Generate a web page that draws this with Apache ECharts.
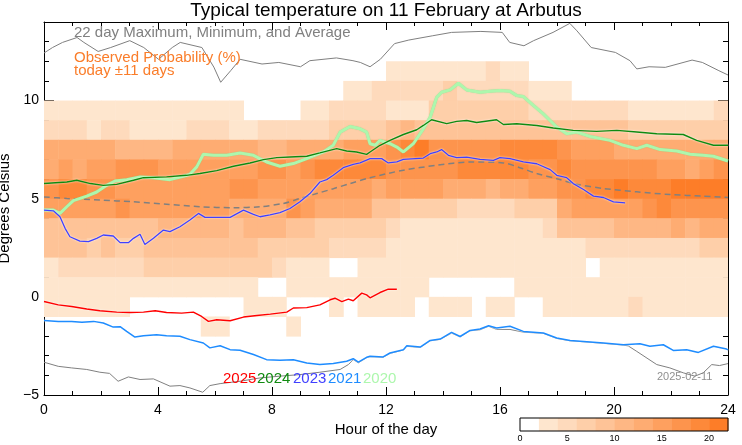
<!DOCTYPE html>
<html><head><meta charset="utf-8">
<script src="https://cdn.jsdelivr.net/npm/echarts@6/dist/echarts.min.js"></script>
<style>html,body{margin:0;padding:0;background:#fff}#c{width:742px;height:445px}</style>
</head><body><div id="c"></div>
<script>
// ---- DATA ----
// Observed probability (%) per 1 °C band (lower edge below) and per half-hour column (48 columns, 0..24 h)
const probTemps = [11, 10, 9, 8, 7, 6, 5, 4, 3, 2, 1, 0, -1, -2];
const prob_11 = [0,0,0,0,0,0,0,0, 0,0,0,0,0,0,0,0, 0,0,0,0,0,0,0,0, 3,3,3,3,3,3,3,5, 3,3,0,0,0,0,0,0, 0,0,0,0,0,0,0,0];
const prob_10 = [0,0,0,0,0,0,0,0, 0,0,0,0,0,0,0,0, 0,0,0,0,0,3,3,5, 5,5,5,5,7,5,5,5, 5,5,3,3,3,0,0,0, 0,0,0,0,0,0,0,0];
const prob_9  = [3,3,3,3,3,3,3,3, 3,3,3,3,3,3,0,0, 0,0,3,3,5,5,5,5, 3,3,3,7,7,7,7,7, 7,7,5,5,5,5,5,5, 5,3,3,3,3,3,3,5];
const prob_8  = [5,5,5,3,5,5,3,3, 3,3,5,5,5,3,3,5, 5,5,5,5,7,7,7,7, 9,11,9,9,9,9,9,9, 9,9,9,9,9,9,9,9, 9,7,7,7,7,7,7,7];
const prob_7  = [13,13,13,13,13,11,11,11, 11,13,13,13,13,13,13,11, 11,13,13,13,13,15,15,15, 17,19,21,17,17,17,17,17, 19,19,19,19,17,15,15,15, 13,13,13,13,13,13,13,13];
const prob_6  = [13,15,13,15,15,17,17,17, 15,15,15,15,15,15,15,17, 17,15,17,19,19,19,19,19, 17,17,17,17,17,19,19,19, 19,19,17,17,19,17,17,17, 17,17,17,15,15,13,15,17];
const prob_5  = [17,19,19,17,17,15,15,15, 15,15,15,15,15,17,17,15, 15,15,15,15,15,15,15,13, 15,15,15,15,13,13,13,11, 13,13,15,15,17,17,19,19, 21,19,19,19,21,21,21,21];
const prob_4  = [15,15,15,15,15,17,15,15, 15,15,15,15,15,13,13,13, 13,17,15,13,13,13,13,9, 9,7,7,7,7,5,5,5, 5,7,7,7,13,15,15,15, 15,15,17,19,17,17,17,17];
const prob_3  = [9,9,9,9,9,9,9,9, 11,11,11,11,11,9,11,11, 11,9,9,7,7,7,7,7, 5,3,3,3,3,3,3,3, 3,3,3,5,9,9,9,9, 11,11,11,11,13,11,13,13];
const prob_2  = [9,9,9,7,9,7,7,9, 9,9,9,9,9,9,9,7, 7,7,7,7,5,5,5,5, 3,3,3,3,3,3,3,3, 3,3,3,3,3,3,5,5, 5,5,5,5,5,5,7,7];
const prob_1  = [3,5,5,5,5,5,5,7, 7,7,7,7,7,7,7,7, 5,3,3,3,0,0,3,3, 3,3,3,3,3,3,3,3, 3,3,3,3,3,3,0,3, 3,3,3,3,3,3,3,3];
const prob_0  = [3,3,3,3,3,3,3,3, 3,3,3,3,3,3,3,0, 0,3,3,3,3,3,3,3, 3,3,3,0,0,0,0,0, 0,3,3,3,3,3,3,3, 3,3,3,3,3,3,3,3];
const prob_m1 = [3,3,3,3,3,3,0,0, 0,0,0,0,0,0,3,3, 3,0,0,0,3,0,3,3, 3,3,0,3,3,3,0,3, 3,0,0,3,3,3,3,3, 3,5,3,3,3,3,3,3];
const prob_m2 = [0,0,0,0,0,0,0,0, 0,0,0,3,3,0,0,0, 0,3,0,0,0,0,0,0, 0,0,0,0,0,0,0,0, 0,0,0,0,0,0,0,0, 0,0,0,0,0,0,0,0];
const probRows = [prob_11, prob_10, prob_9, prob_8, prob_7, prob_6, prob_5, prob_4, prob_3, prob_2, prob_1, prob_0, prob_m1, prob_m2];

const colorbarEdges = [0, 2, 4, 6, 8, 10, 12, 14, 16, 18, 20, 22];
const colorbarTicks = [0, 5, 10, 15, 20];

const maxLine = [[0,12.42],[0.3,12.7],[0.65,12.96],[1.16,13.21],[1.4,12.96],[1.9,12.5],[2.34,12.7],[3.01,13.05],[3.5,12.7],[4.02,12.1],[4.5,12.7],[4.78,12.96],[5.54,12.7],[5.96,11.7],[6.2,10.93],[6.55,11.52],[6.88,12.1],[7.65,11.86],[8.24,11.94],[9.0,11.72],[9.33,12.03],[10.26,12.17],[10.84,12.03],[11.1,11.94],[11.44,11.72],[11.8,12.1],[12.3,12.9],[12.8,13.08],[13.64,13.3],[14.3,13.47],[15.33,13.52],[16.08,13.47],[16.34,12.96],[16.84,12.79],[17.18,13.05],[17.86,13.47],[18.45,13.93],[18.7,13.55],[19.2,12.7],[20.05,12.45],[20.56,12.03],[20.8,11.61],[21.23,11.72],[21.8,11.69],[22.74,12.06],[23.1,11.94],[23.68,11.52],[24,11.3]];
const minLine = [[0,-3.33],[0.5,-3.54],[0.97,-3.62],[1.5,-3.7],[1.96,-3.84],[2.3,-3.9],[2.6,-4.3],[2.96,-4.08],[3.37,-4.21],[3.84,-4.18],[4.42,-4.55],[4.77,-4.52],[5.12,-4.64],[5.57,-4.86],[5.82,-4.52],[6.18,-4.42],[6.88,-4.3],[7.58,-4.13],[8.28,-4.04],[8.98,-3.96],[9.68,-3.84],[10.39,-3.7],[10.68,-3.45],[10.85,-3.2],[11.03,-3.36],[11.32,-3.1],[11.44,-3.05],[11.9,-3.08],[12.14,-2.88],[12.61,-2.71],[12.73,-2.52],[13.2,-2.58],[13.55,-2.24],[13.9,-2.17],[14.3,-1.85],[14.6,-2.04],[14.95,-1.73],[15.3,-1.68],[15.6,-1.5],[15.88,-1.66],[16.35,-1.66],[16.82,-1.8],[17.52,-1.86],[17.99,-2.12],[18.46,-2.24],[18.93,-2.29],[19.63,-2.37],[20.33,-2.46],[20.5,-2.5],[20.8,-2.78],[21.5,-3.45],[21.96,-3.62],[22.43,-3.87],[22.84,-4.04],[23.13,-3.87],[23.43,-3.45],[23.7,-3.5],[24,-3.4]];
const avgLine = [[0,5.09],[0.8,5.01],[1.97,4.93],[3.14,4.84],[4.3,4.72],[5.47,4.59],[6.65,4.54],[7.58,4.59],[8.4,4.76],[8.98,5.01],[9.57,5.26],[10.15,5.51],[10.74,5.77],[11.44,6.07],[12.61,6.45],[13.78,6.7],[14.95,6.87],[16.12,6.82],[16.7,6.58],[17.29,6.28],[17.99,6.02],[18.69,5.74],[19.63,5.52],[20.8,5.35],[21.97,5.21],[23.13,5.13],[24,5.06]];
const line2025 = [[0,-0.24],[0.5,-0.41],[0.97,-0.49],[1.5,-0.62],[1.96,-0.71],[2.55,-0.78],[3.02,-0.8],[3.49,-0.78],[3.9,-0.71],[4.3,-0.8],[4.83,-0.83],[5.24,-0.78],[5.53,-1.0],[5.77,-1.25],[6.06,-1.17],[6.53,-1.22],[7.0,-1.03],[7.47,-0.95],[7.94,-0.88],[8.52,-0.78],[8.75,-0.57],[9.22,-0.55],[9.68,-0.41],[10.04,-0.15],[10.21,-0.07],[10.45,-0.24],[10.68,-0.12],[10.85,-0.2],[11.15,0.19],[11.32,0.1],[11.44,-0.05],[11.79,0.22],[12.08,0.39],[12.38,0.39]];
const line2024 = [[0,5.77],[0.8,5.85],[1.15,5.94],[1.63,5.77],[2.08,5.68],[2.55,5.73],[3.14,5.94],[3.49,6.07],[4.3,6.11],[5.0,6.19],[5.47,6.28],[6.06,6.43],[6.65,6.65],[7.23,6.82],[7.7,6.99],[8.17,7.09],[8.63,7.12],[9.22,7.16],[9.68,7.33],[10.27,7.55],[10.62,7.43],[10.97,7.38],[11.32,7.26],[11.44,7.38],[11.79,7.72],[12.14,7.97],[12.61,8.27],[13.08,8.51],[13.31,8.73],[13.6,9.02],[14.13,8.82],[14.48,8.94],[14.83,8.98],[15.18,8.88],[15.88,9.02],[16.12,8.78],[16.59,8.82],[17.29,8.73],[17.87,8.6],[18.57,8.48],[19.39,8.43],[20.1,8.48],[20.8,8.4],[21.5,8.31],[22.43,8.27],[22.9,7.97],[23.49,7.72],[24,7.72]];
const line2023 = [[0,4.42],[0.33,4.38],[0.56,4.08],[0.74,3.49],[0.91,3.06],[1.26,2.84],[1.56,2.81],[1.85,2.98],[2.08,3.15],[2.43,3.1],[2.67,2.76],[2.96,2.76],[3.14,2.98],[3.37,3.19],[3.54,2.67],[3.84,2.98],[4.19,3.4],[4.42,3.32],[4.77,3.57],[5.12,3.91],[5.42,4.25],[5.65,4.05],[6.06,4.05],[6.53,4.05],[7.0,4.42],[7.35,4.2],[7.58,4.08],[7.93,4.17],[8.28,4.29],[8.63,4.5],[8.98,4.84],[9.33,5.26],[9.68,5.85],[9.92,5.97],[10.15,6.19],[10.5,6.58],[10.85,6.75],[11.09,6.82],[11.44,7.04],[11.85,7.04],[12.08,6.82],[12.38,6.87],[12.61,7.0],[13.31,7.07],[13.55,7.29],[13.78,7.38],[13.95,7.5],[14.19,7.21],[14.48,7.09],[14.83,7.12],[15.3,7.0],[15.77,6.95],[16.0,7.09],[16.35,7.04],[16.82,6.87],[17.29,6.78],[17.76,6.48],[17.99,6.19],[18.34,6.07],[18.57,5.77],[18.93,5.47],[19.28,5.13],[19.63,5.06],[19.98,4.84],[20.39,4.79]];
const line2021 = [[0,-1.2],[0.5,-1.25],[0.97,-1.25],[1.33,-1.3],[1.74,-1.25],[2.08,-1.33],[2.43,-1.54],[2.67,-1.52],[2.9,-1.76],[3.19,-2.05],[3.49,-1.98],[3.95,-1.93],[4.3,-1.98],[4.77,-2.01],[5.12,-2.18],[5.59,-2.35],[5.82,-2.6],[6.18,-2.49],[6.53,-2.69],[6.88,-2.72],[7.35,-2.94],[7.81,-3.2],[8.28,-3.23],[8.75,-3.2],[9.22,-3.37],[9.68,-3.45],[10.15,-3.4],[10.62,-3.28],[10.85,-3.15],[11.03,-3.33],[11.32,-3.08],[11.44,-3.03],[11.9,-3.06],[12.14,-2.86],[12.61,-2.69],[12.73,-2.49],[13.2,-2.56],[13.55,-2.22],[13.9,-2.15],[14.3,-1.81],[14.6,-2.02],[14.95,-1.71],[15.3,-1.64],[15.6,-1.47],[15.88,-1.59],[16.35,-1.5],[16.82,-1.76],[17.52,-1.84],[17.99,-2.1],[18.46,-2.22],[18.93,-2.27],[19.63,-2.35],[20.33,-2.44],[20.91,-2.39],[21.26,-2.52],[21.73,-2.44],[22.08,-2.73],[22.55,-2.69],[22.96,-2.83],[23.49,-2.52],[23.95,-2.66],[24,-2.7]];
const line2020 = [[0,4.42],[0.33,4.42],[0.56,4.25],[0.8,4.59],[1.03,4.9],[1.5,5.13],[1.85,5.34],[2.2,5.68],[2.49,5.9],[2.9,5.97],[3.37,6.11],[3.84,6.07],[4.42,5.97],[4.89,6.14],[5.12,6.24],[5.36,6.62],[5.59,7.26],[5.94,7.21],[6.41,7.21],[6.88,7.33],[7.35,7.21],[7.81,6.87],[8.28,6.65],[8.75,6.79],[9.22,7.04],[9.8,7.38],[10.15,7.72],[10.39,8.39],[10.74,8.68],[11.09,8.56],[11.32,8.39],[11.44,7.8],[11.62,7.72],[11.79,7.97],[12.14,7.8],[12.38,7.63],[12.61,7.38],[12.96,7.8],[13.31,8.56],[13.55,9.15],[13.78,10.17],[13.95,10.42],[14.25,10.54],[14.54,10.88],[14.83,10.54],[15.3,10.42],[15.65,10.47],[16.0,10.51],[16.35,10.47],[16.59,10.25],[16.82,10.2],[17.17,9.75],[17.52,9.32],[17.99,8.65],[18.34,8.31],[18.69,8.39],[19.16,8.17],[19.86,7.97],[20.33,7.72],[20.8,7.55],[21.15,7.72],[21.62,7.5],[22.2,7.43],[22.67,7.26],[23.13,7.21],[23.49,7.16],[24,6.92]];

const yearLabels = ['2025', '2024', '2023', '2021', '2020'];

// ---- STYLE ----
const FONT = "'Liberation Sans', Arial, Helvetica, sans-serif";
const palette = ['#ffffff','#fee6ce','#fedabc','#fecfa9','#fec397','#feb784','#feac72','#fea05f','#fd944d','#fd893a','#fd7d28'];
const yearColors = ['#ff0000', '#108a10', '#4040ff', '#1e8cff', '#adf7ad'];
const yearLabelX = [223, 257, 293, 328, 363];
const ORANGE = '#fa7d2a';
const GRAY = '#808080';
const CELL_W = 0.5, CELL_H = 1;

function levelColor(v) { return palette[Math.min(palette.length - 1, Math.floor(v / 2))]; }

const heatData = [];
probRows.forEach((row, r) => row.forEach((v, c) => { if (v > 0) heatData.push([c * CELL_W, probTemps[r], v]); }));
const cbData = [];
for (let i = 0; i < colorbarEdges.length - 1; i++) cbData.push([colorbarEdges[i], colorbarEdges[i + 1], (colorbarEdges[i] + colorbarEdges[i + 1]) / 2]);

function renderCell(params, api) {
  const x = api.value(0), y = api.value(1), v = api.value(2);
  const p0 = api.coord([x, y + CELL_H]);
  const p1 = api.coord([x + CELL_W, y]);
  return { type: 'rect', shape: { x: p0[0], y: p0[1], width: p1[0] - p0[0] + 0.5, height: p1[1] - p0[1] + 0.5 },
           style: { fill: levelColor(v) } };
}
function renderBar(params, api) {
  const p0 = api.coord([api.value(0), 1]);
  const p1 = api.coord([api.value(1), 0]);
  return { type: 'rect', shape: { x: p0[0], y: p0[1], width: p1[0] - p0[0] + 0.4, height: p1[1] - p0[1] },
           style: { fill: levelColor(api.value(2)) } };
}

const black = { color: '#000', width: 1 };
function majorY(pos, labels) {
  return { gridIndex: 0, type: 'value', position: pos, min: -5, max: 14, interval: 5,
    axisLine: { show: true, onZero: false, lineStyle: black },
    axisTick: { show: true, inside: true, length: 10, lineStyle: black },
    axisLabel: { show: labels, fontSize: 14, fontFamily: FONT, color: '#000', margin: 5,
      formatter: v => (v % 5 === 0 ? String(v).replace('-', '\u2212') : '') },
    splitLine: { show: false },
    name: labels ? 'Degrees Celsius' : '', nameLocation: 'middle', nameGap: 24, nameRotate: 90,
    nameTextStyle: { fontSize: 15, fontFamily: FONT, color: '#000' } };
}
function minorY(pos) {
  return { gridIndex: 0, type: 'value', position: pos, min: -5, max: 14, interval: 1,
    axisLine: { show: false, onZero: false }, axisTick: { show: true, inside: true, length: 5, lineStyle: black },
    axisLabel: { show: false }, splitLine: { show: false } };
}
function xAx(pos, labels) {
  return { gridIndex: 0, type: 'value', position: pos, min: 0, max: 24, interval: 4,
    axisLine: { show: true, onZero: false, lineStyle: black },
    axisTick: { show: true, inside: true, length: 8, lineStyle: black },
    minorTick: { show: true, splitNumber: 4, length: 4, lineStyle: black },
    axisLabel: { show: labels, fontSize: 14, fontFamily: FONT, color: '#000', margin: 8 },
    splitLine: { show: false }, minorSplitLine: { show: false },
    name: labels ? 'Hour of the day' : '', nameLocation: 'middle', nameGap: 21,
    nameTextStyle: { fontSize: 15, fontFamily: FONT, color: '#000' } };
}
function lineSeries(data, color, width, extra) {
  return Object.assign({ type: 'line', xAxisIndex: 0, yAxisIndex: 0, data: data, showSymbol: false, symbol: 'none',
    lineStyle: { color: color, width: width }, z: 5, silent: true, animation: false }, extra || {});
}

const graphics = [
  { type: 'text', x: 386, y: 11, style: { text: 'Typical temperature on 11 February at Arbutus', fontSize: 19, fontFamily: FONT, fill: '#000', textAlign: 'center', textVerticalAlign: 'middle' } },
  { type: 'text', x: 74, y: 33, z: 10, style: { text: '22 day Maximum, Minimum, and Average', fontSize: 15, fontFamily: FONT, fill: GRAY, textVerticalAlign: 'middle' } },
  { type: 'text', x: 74, y: 58, z: 10, style: { text: 'Observed Probability (%)', fontSize: 15, fontFamily: FONT, fill: ORANGE, textVerticalAlign: 'middle' } },
  { type: 'text', x: 74, y: 71, z: 10, style: { text: 'today \u00b111 days', fontSize: 15, fontFamily: FONT, fill: ORANGE, textVerticalAlign: 'middle' } },
  { type: 'text', x: 657, y: 377, z: 10, style: { text: '2025-02-11', fontSize: 11, fontFamily: FONT, fill: '#909090', textVerticalAlign: 'middle' } }
];
yearLabels.forEach((t, i) => graphics.push({ type: 'text', x: yearLabelX[i], y: 379, z: 10,
  style: { text: t, fontSize: 15, fontFamily: FONT, fill: yearColors[i], textVerticalAlign: 'middle' } }));

const chart = echarts.init(document.getElementById('c'), null, { renderer: 'canvas' });
chart.setOption({
  animation: false,
  backgroundColor: '#fff',
  textStyle: { fontFamily: FONT },
  grid: [
    { left: 44, right: 14, top: 22, bottom: 50, containLabel: false, outerBoundsMode: 'none' },
    { left: 520, width: 208, top: 418, height: 13, show: true, borderColor: '#000', borderWidth: 1, backgroundColor: 'transparent', containLabel: false, outerBoundsMode: 'none' }
  ],
  xAxis: [
    xAx('bottom', true),
    xAx('top', false),
    { gridIndex: 1, type: 'value', min: 0, max: 22, interval: 5, position: 'bottom',
      axisLine: { show: false }, axisTick: { show: false }, splitLine: { show: false },
      axisLabel: { fontSize: 9, fontFamily: FONT, color: '#000', margin: 3,
        formatter: v => (colorbarTicks.indexOf(v) >= 0 ? String(v) : '') } }
  ],
  yAxis: [
    majorY('left', true), minorY('left'), majorY('right', false), minorY('right'),
    { gridIndex: 1, type: 'value', min: 0, max: 1, show: false }
  ],
  series: [
    { type: 'custom', xAxisIndex: 0, yAxisIndex: 0, data: heatData, renderItem: renderCell, clip: true, z: 1, silent: true },
    { type: 'custom', xAxisIndex: 2, yAxisIndex: 4, data: cbData, renderItem: renderBar, z: -1, silent: true },
    lineSeries(maxLine, GRAY, 1),
    lineSeries(minLine, GRAY, 1),
    lineSeries(avgLine, GRAY, 1.5, { smooth: 0.3, lineStyle: { color: GRAY, width: 1.5, type: [6, 4] } }),
    lineSeries(line2020, yearColors[4], 3, { lineStyle: { color: yearColors[4], width: 3, shadowColor: 'rgba(120,200,120,0.6)', shadowBlur: 1 } }),
    lineSeries(line2024, yearColors[1], 1.4, { lineStyle: { color: yearColors[1], width: 1.4, shadowColor: '#fff', shadowBlur: 2 } }),
    lineSeries(line2023, yearColors[2], 1.3, { lineStyle: { color: yearColors[2], width: 1.3, shadowColor: '#fff', shadowBlur: 2 } }),
    lineSeries(line2021, yearColors[3], 1.5, { lineStyle: { color: yearColors[3], width: 1.5, shadowColor: '#fff', shadowBlur: 2 } }),
    lineSeries(line2025, yearColors[0], 1.4, { lineStyle: { color: yearColors[0], width: 1.4, shadowColor: '#fff', shadowBlur: 2 } })
  ],
  graphic: graphics
});
</script></body></html>
